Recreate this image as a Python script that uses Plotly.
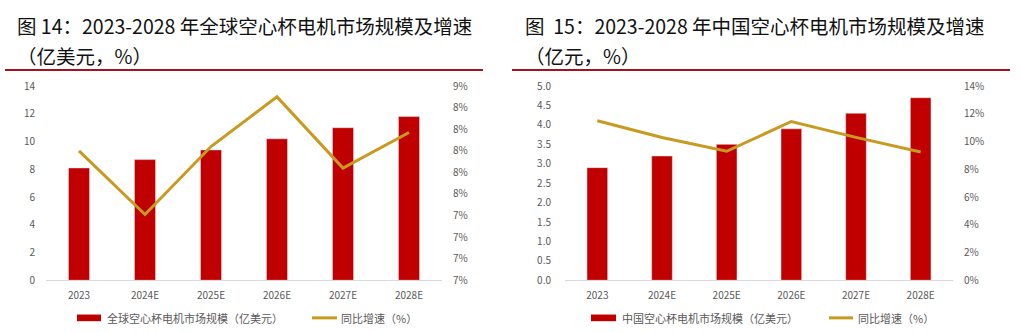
import plotly.graph_objects as go

W, H = 1020, 332

years = ["2023", "2024E", "2025E", "2026E", "2027E", "2028E"]
global_size = [8.1, 8.7, 9.4, 10.2, 11.0, 11.8]
global_growth = [0.0800, 0.0741, 0.0804, 0.0850, 0.0784, 0.0817]
china_size = [2.9, 3.2, 3.5, 3.9, 4.3, 4.7]
china_growth = [0.115, 0.103, 0.093, 0.1145, 0.103, 0.0925]

title_left_1 = "图 14：2023-2028 年全球空心杯电机市场规模及增速"
title_left_2 = "（亿美元，%）"
title_right_1 = "图  15：2023-2028 年中国空心杯电机市场规模及增速"
title_right_2 = "（亿元，%）"
legend_left_bar = "全球空心杯电机市场规模（亿美元）"
legend_right_bar = "中国空心杯电机市场规模（亿美元）"
legend_line = "同比增速（%）"

BAR = "#C00000"
LINE = "#C89A20"
TICK = "#595959"
FONT = "Noto Sans CJK SC"


def px(x):
    return x / W


def py(y):
    return 1 - y / H


fig = go.Figure()
fig.add_trace(go.Bar(x=years, y=global_size, marker_color=BAR, xaxis="x", yaxis="y", showlegend=False))
fig.add_trace(go.Scatter(x=years, y=global_growth, mode="lines", line=dict(color=LINE, width=3),
                         xaxis="x", yaxis="y2", showlegend=False))
fig.add_trace(go.Bar(x=years, y=china_size, marker_color=BAR, xaxis="x2", yaxis="y3", showlegend=False))
fig.add_trace(go.Scatter(x=years, y=china_growth, mode="lines", line=dict(color=LINE, width=3),
                         xaxis="x2", yaxis="y4", showlegend=False))

ydom = [py(285), py(81)]
tickfont = dict(family=FONT, size=10, color=TICK)
xcommon = dict(showgrid=False, showline=True, linecolor="#D9D9D9", linewidth=1, ticks="",
               tickfont=tickfont, ticklabelstandoff=6, fixedrange=True)
ycommon = dict(showgrid=False, zeroline=False, showline=False, ticks="", tickfont=tickfont,
               fixedrange=True)

fig.update_layout(
    width=W, height=H, margin=dict(l=0, r=0, t=0, b=0),
    paper_bgcolor="white", plot_bgcolor="white",
    bargap=0.68,
    font=dict(family=FONT),
    xaxis=dict(domain=[px(46), px(442)], anchor="y", **xcommon),
    yaxis=dict(domain=ydom, range=[0, 14], dtick=2, anchor="x", ticklabelstandoff=10, **ycommon),
    yaxis2=dict(range=[0.068, 0.086], tick0=0.068, dtick=0.002, tickformat=".0%", overlaying="y",
                side="right", anchor="x", ticklabelstandoff=10, **ycommon),
    xaxis2=dict(domain=[px(565), px(953)], anchor="y3", **xcommon),
    yaxis3=dict(domain=ydom, range=[0, 5], dtick=0.5, tickformat=".1f", anchor="x2",
                ticklabelstandoff=13, **ycommon),
    yaxis4=dict(range=[0, 0.14], dtick=0.02, tickformat=".0%", overlaying="y3", side="right",
                anchor="x2", ticklabelstandoff=10, **ycommon),
)

shapes = []
annots = []

# title separators
shapes.append(dict(type="line", xref="paper", yref="paper", x0=px(5), x1=px(483), y0=py(64), y1=py(64),
                   line=dict(color="#A5121C", width=2)))
shapes.append(dict(type="line", xref="paper", yref="paper", x0=px(512), x1=px(1010), y0=py(64), y1=py(64),
                   line=dict(color="#A5121C", width=2)))

tfont = dict(family=FONT, size=19.5, color="#111111")
for x, y, t in [(15, 17, title_left_1), (15, 49, title_left_2), (523, 17, title_right_1), (523, 49, title_right_2)]:
    annots.append(dict(text=t, xref="paper", yref="paper", x=px(x), y=py(y), xanchor="left", yanchor="middle",
                       showarrow=False, font=tfont))

# legends
lfont = dict(family=FONT, size=11, color=TICK)
for (rx0, rx1, tx, lx0, lx1, lt, bar_t) in [(77, 101, 105, 312, 337, 339, legend_left_bar),
                                           (591, 616, 620, 829, 853, 856, legend_right_bar)]:
    shapes.append(dict(type="rect", xref="paper", yref="paper", x0=px(rx0), x1=px(rx1), y0=py(328), y1=py(321),
                       fillcolor=BAR, line=dict(width=0)))
    shapes.append(dict(type="line", xref="paper", yref="paper", x0=px(lx0), x1=px(lx1), y0=py(324.5), y1=py(324.5),
                       line=dict(color=LINE, width=3)))
    annots.append(dict(text=bar_t, xref="paper", yref="paper", x=px(tx), y=py(325), xanchor="left",
                       yanchor="middle", showarrow=False, font=lfont))
    annots.append(dict(text=legend_line, xref="paper", yref="paper", x=px(lt), y=py(325), xanchor="left",
                       yanchor="middle", showarrow=False, font=lfont))

fig.update_layout(shapes=shapes, annotations=annots)
fig.write_html("out.html", config={"displayModeBar": False})
